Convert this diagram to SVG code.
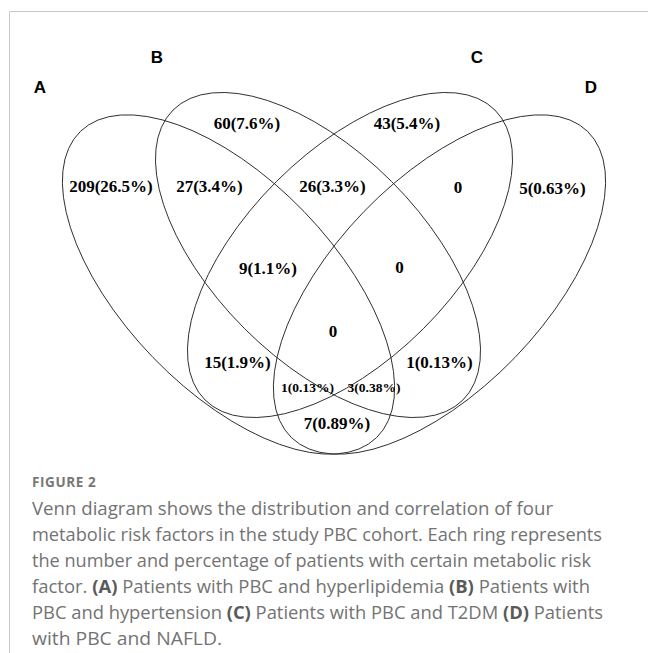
<svg xmlns="http://www.w3.org/2000/svg" width="648" height="653" viewBox="0 0 648 653">
<style>
.ring{fill:none;stroke:#262626;stroke-width:0.9}
.set{font-family:"Liberation Sans",Arial,sans-serif;font-weight:bold;font-size:17px;fill:#000;text-anchor:middle}
.n{font-family:"Liberation Serif","Times New Roman",serif;font-weight:bold;font-size:17px;fill:#000;text-anchor:middle}
.s{font-size:13.5px}
.cap{font-family:"Open Sans",Lato,sans-serif;font-size:18.2px;fill:#737373}
.fig{font-family:"Open Sans",Lato,sans-serif;font-size:13.5px;font-weight:bold;fill:#777;letter-spacing:0.6px}
.b{font-weight:bold;fill:#5a5a5a}
.frame{stroke:#c8c8c8;stroke-width:1;fill:none}
</style>
<rect width="648" height="653" fill="#fff"/>
<path class="frame" d="M9.5,653 V11.5 H648"/>
<g id="set-A">
<ellipse class="ring" cx="228.5" cy="284.5" rx="213" ry="105" transform="rotate(46 228.5 284.5)"/>
<text class="set" x="40" y="93">A</text>
</g>
<g id="set-B">
<ellipse class="ring" cx="318" cy="255" rx="205" ry="104" transform="rotate(45 318 255)"/>
<text class="set" x="157" y="63">B</text>
</g>
<g id="set-C">
<ellipse class="ring" cx="350" cy="255" rx="205" ry="104" transform="rotate(-45 350 255)"/>
<text class="set" x="477" y="63">C</text>
</g>
<g id="set-D">
<ellipse class="ring" cx="439.5" cy="284.5" rx="213" ry="105" transform="rotate(-46 439.5 284.5)"/>
<text class="set" x="591" y="93">D</text>
</g>
<g id="counts">
<text class="n" x="247" y="129">60(7.6%)</text>
<text class="n" x="407" y="129">43(5.4%)</text>
<text class="n" x="111" y="192">209(26.5%)</text>
<text class="n" x="209.5" y="192">27(3.4%)</text>
<text class="n" x="332.5" y="192">26(3.3%)</text>
<text class="n" x="458" y="193">0</text>
<text class="n" x="552.5" y="194">5(0.63%)</text>
<text class="n" x="268" y="274">9(1.1%)</text>
<text class="n" x="399.5" y="273">0</text>
<text class="n" x="333" y="337">0</text>
<text class="n" x="237.5" y="368">15(1.9%)</text>
<text class="n" x="439.5" y="368">1(0.13%)</text>
<text class="n s" x="307.5" y="392">1(0.13%)</text>
<text class="n s" x="374" y="392">3(0.38%)</text>
<text class="n" x="337" y="429">7(0.89%)</text>
</g>
<g id="caption">
<text class="fig" x="32" y="487">FIGURE 2</text>
<text class="cap" x="32" y="515" textLength="521" lengthAdjust="spacingAndGlyphs">Venn diagram shows the distribution and correlation of four</text>
<text class="cap" x="32" y="541" textLength="570" lengthAdjust="spacingAndGlyphs">metabolic risk factors in the study PBC cohort. Each ring represents</text>
<text class="cap" x="32" y="567" textLength="559" lengthAdjust="spacingAndGlyphs">the number and percentage of patients with certain metabolic risk</text>
<text class="cap" x="32" y="593" textLength="558" lengthAdjust="spacingAndGlyphs">factor. <tspan class="b">(A)</tspan> Patients with PBC and hyperlipidemia <tspan class="b">(B)</tspan> Patients with</text>
<text class="cap" x="32" y="619" textLength="571" lengthAdjust="spacingAndGlyphs">PBC and hypertension <tspan class="b">(C)</tspan> Patients with PBC and T2DM <tspan class="b">(D)</tspan> Patients</text>
<text class="cap" x="32" y="645" textLength="190" lengthAdjust="spacingAndGlyphs">with PBC and NAFLD.</text>
</g>
</svg>
